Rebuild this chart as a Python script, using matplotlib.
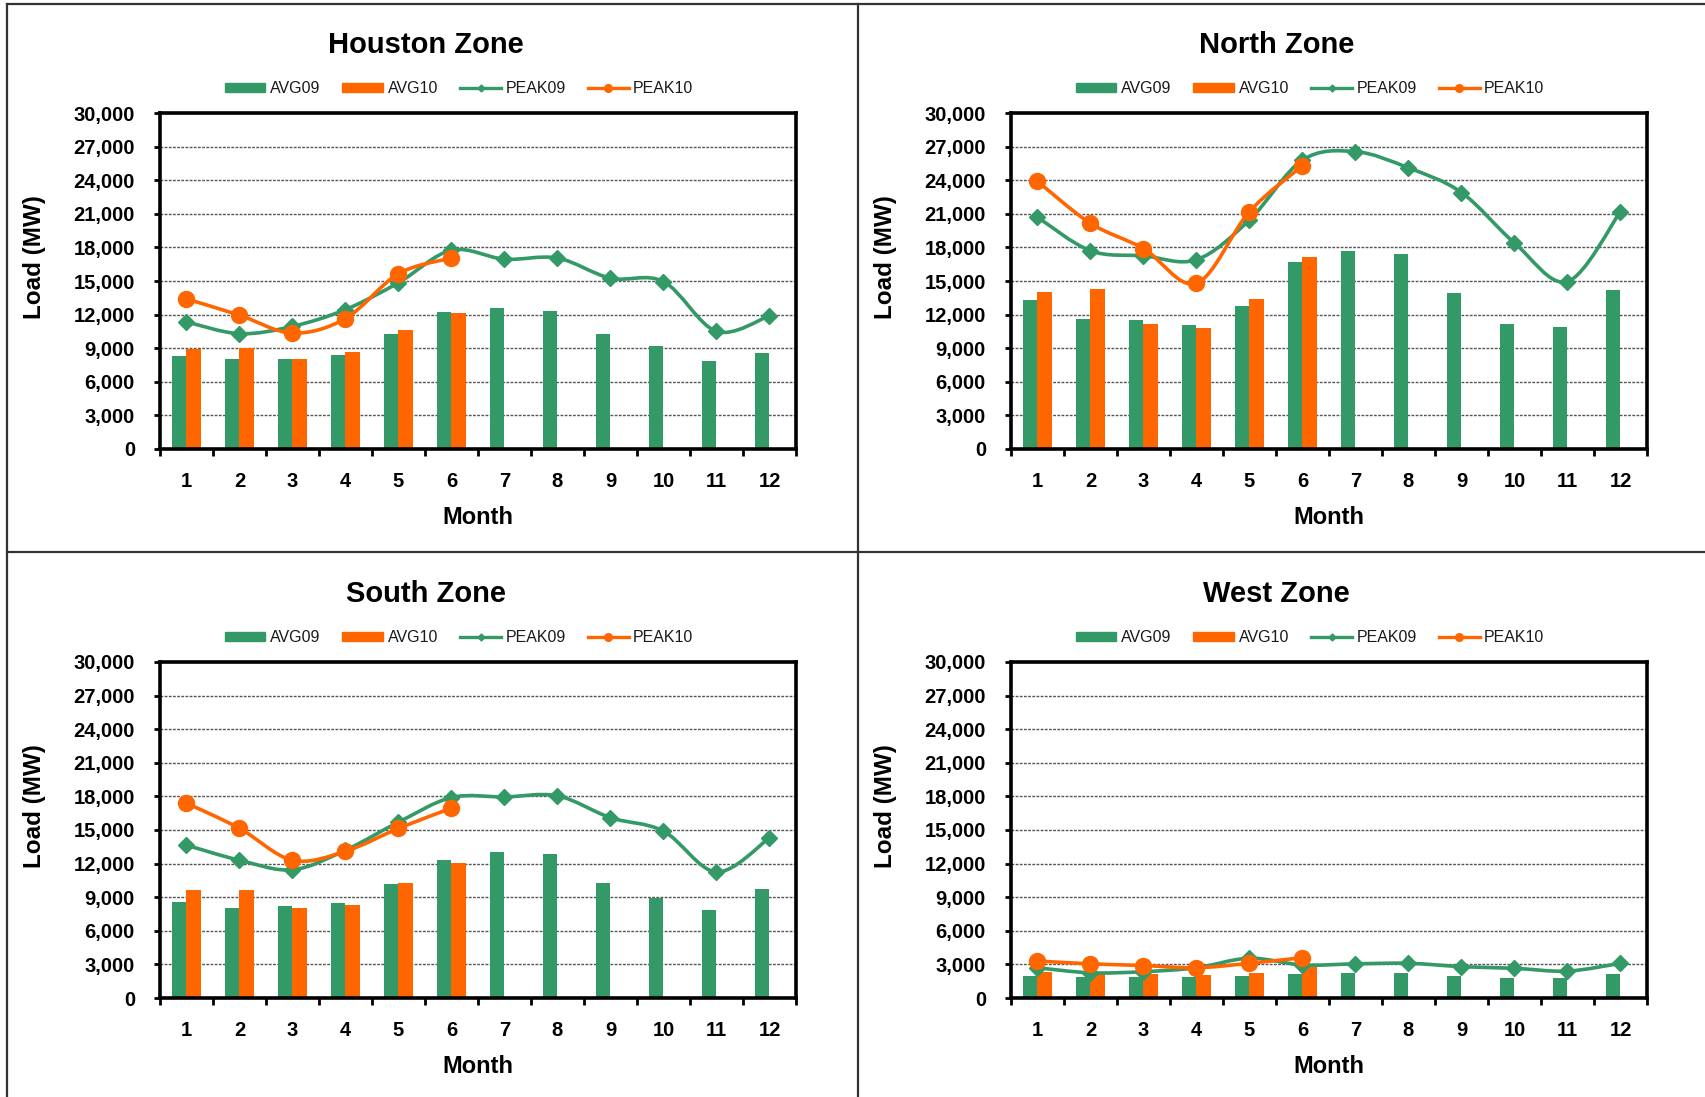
import numpy as np
import matplotlib
matplotlib.use("Agg")
import matplotlib.pyplot as plt
from matplotlib.path import Path
from matplotlib.patches import PathPatch, Patch
from matplotlib.lines import Line2D
from matplotlib.ticker import FuncFormatter, FixedLocator

plt.rcParams['font.family'] = ['Liberation Sans', 'DejaVu Sans']

months = list(range(1, 13))
series_names = ["AVG09", "AVG10", "PEAK09", "PEAK10"]
zones = ["Houston Zone", "North Zone", "South Zone", "West Zone"]

# values (MW)
houston_avg09 = [8300, 8000, 8000, 8400, 10250, 12250, 12550, 12300, 10300, 9200, 7900, 8600]
houston_avg10 = [8900, 9000, 8050, 8650, 10600, 12150]
houston_peak09 = [11350, 10300, 10950, 12450, 14850, 17750, 16950, 17050, 15250, 14950, 10500, 11900]
houston_peak10 = [13400, 11950, 10350, 11650, 15650, 17050]

north_avg09 = [13300, 11600, 11500, 11100, 12750, 16700, 17650, 17400, 13900, 11200, 10850, 14200]
north_avg10 = [14050, 14250, 11200, 10800, 13400, 17150]
north_peak09 = [20700, 17700, 17250, 16900, 20450, 25800, 26550, 25100, 22900, 18400, 14950, 21200]
north_peak10 = [23900, 20150, 17900, 14800, 21200, 25300]

south_avg09 = [8600, 8000, 8200, 8450, 10200, 12300, 13050, 12900, 10250, 8950, 7850, 9700]
south_avg10 = [9650, 9650, 8000, 8280, 10300, 12050]
south_peak09 = [13650, 12300, 11450, 13200, 15700, 17900, 17950, 18050, 16100, 14900, 11250, 14300]
south_peak10 = [17400, 15150, 12300, 13100, 15150, 16950]

west_avg09 = [1950, 1900, 1900, 1900, 1950, 2150, 2200, 2250, 1950, 1800, 1800, 2100]
west_avg10 = [2350, 2200, 2150, 2050, 2250, 2800]
west_peak09 = [2700, 2250, 2350, 2700, 3550, 2950, 3050, 3100, 2800, 2650, 2400, 3100]
west_peak10 = [3300, 3050, 2900, 2700, 3100, 3600]

zone_data = [
    (houston_avg09, houston_avg10, houston_peak09, houston_peak10),
    (north_avg09, north_avg10, north_peak09, north_peak10),
    (south_avg09, south_avg10, south_peak09, south_peak10),
    (west_avg09, west_avg10, west_peak09, west_peak10),
]

GREEN = "#339966"
ORANGE = "#FF6600"
W, H = 1706, 1097


def smooth_path(x, y):
    # Excel-style smoothed line (Catmull-Rom as cubic Bezier)
    pts = np.column_stack([x, y]).astype(float)
    n = len(pts)
    verts = [pts[0]]
    codes = [Path.MOVETO]
    for i in range(n - 1):
        p0 = pts[i - 1] if i > 0 else pts[i]
        p1 = pts[i]
        p2 = pts[i + 1]
        p3 = pts[i + 2] if i + 2 < n else pts[i + 1]
        verts += [p1 + (p2 - p0) / 6, p2 - (p3 - p1) / 6, p2]
        codes += [Path.CURVE4] * 3
    return Path(verts, codes)


def draw_zone(ax, title, avg09, avg10, peak09, peak10):
    m = np.array(months)
    bw = 0.283
    ax.bar(m - bw / 2, avg09, width=bw, color=GREEN, zorder=2)
    m10 = m[:len(avg10)]
    ax.bar(m10 + bw / 2, avg10, width=bw, color=ORANGE, zorder=2)

    ax.add_patch(PathPatch(smooth_path(m, peak09), fill=False, edgecolor=GREEN,
                           lw=2.6, zorder=3, capstyle='round'))
    ax.plot(m, peak09, linestyle='none', marker='D', ms=8, color=GREEN,
            mec=GREEN, zorder=4)
    m_p10 = m[:len(peak10)]
    ax.add_patch(PathPatch(smooth_path(m_p10, peak10), fill=False, edgecolor=ORANGE,
                           lw=2.6, zorder=5, capstyle='round'))
    ax.plot(m_p10, peak10, linestyle='none', marker='o', ms=11.5, color=ORANGE,
            mec=ORANGE, zorder=6)

    ax.set_xlim(0.5, 12.5)
    ax.set_ylim(0, 30000)
    ax.set_yticks(range(0, 30001, 3000))
    ax.yaxis.set_major_formatter(FuncFormatter(lambda v, p: f"{v:,.0f}"))
    ax.set_xticks(months)
    ax.xaxis.set_minor_locator(FixedLocator(np.arange(0.5, 13, 1)))
    ax.tick_params(axis='x', which='major', length=0, pad=16.5, labelsize=14.5)
    ax.tick_params(axis='x', which='minor', length=5, width=2, direction='out')
    ax.tick_params(axis='y', which='major', length=4, width=2, direction='out',
                   pad=14, labelsize=14.5)
    for lab in ax.get_xticklabels() + ax.get_yticklabels():
        lab.set_fontweight('bold')

    ax.grid(axis='y', color='#555555', linestyle=(0, (2, 1)), lw=1, zorder=0)
    ax.set_axisbelow(True)
    for sp in ax.spines.values():
        sp.set_linewidth(2.6)
        sp.set_color('black')
        sp.set_zorder(7)

    ax.text(0.418, 1.179, title, transform=ax.transAxes, ha='center', va='baseline',
            fontsize=21, fontweight='bold')
    ax.text(0.5, -0.203, "Month", transform=ax.transAxes, ha='center', va='center',
            fontsize=17, fontweight='bold')
    ax.text(-0.198, 0.570, "Load (MW)", transform=ax.transAxes, ha='center', va='center',
            rotation=90, fontsize=17.5, fontweight='bold')

    handles = [
        Patch(color=GREEN),
        Patch(color=ORANGE),
        Line2D([], [], color=GREEN, lw=2.4, marker='D', ms=3.5),
        Line2D([], [], color=ORANGE, lw=2.4, marker='o', ms=5.5),
    ]
    ax.legend(handles, series_names, loc='center', bbox_to_anchor=(0.470, 1.073),
              ncol=4, frameon=False, fontsize=11.5, handlelength=2.55,
              handleheight=0.5, handletextpad=0.27, columnspacing=1.4,
              labelcolor='#1a1a1a', borderpad=0)


fig = plt.figure(figsize=(W / 100, H / 100), dpi=100)

ax_left = [160, 1011]
ax_top = [113, 662]
ax_w, ax_h = 636, 336
for k, title in enumerate(zones):
    r, c = divmod(k, 2)
    left = ax_left[c] / W
    bottom = 1 - (ax_top[r] + ax_h) / H
    ax = fig.add_axes([left, bottom, ax_w / W, ax_h / H])
    draw_zone(ax, title, *zone_data[k])

# panel borders
border = dict(color='#333333', lw=1.6, transform=fig.transFigure)
fig.add_artist(Line2D([7 / W, 1], [1 - 4 / H, 1 - 4 / H], **border))
fig.add_artist(Line2D([7 / W, 7 / W], [0, 1 - 4 / H], **border))
fig.add_artist(Line2D([858 / W, 858 / W], [0, 1 - 4 / H], **border))
fig.add_artist(Line2D([7 / W, 1], [1 - 552 / H, 1 - 552 / H], **border))

fig.savefig("out.png", dpi=100)
